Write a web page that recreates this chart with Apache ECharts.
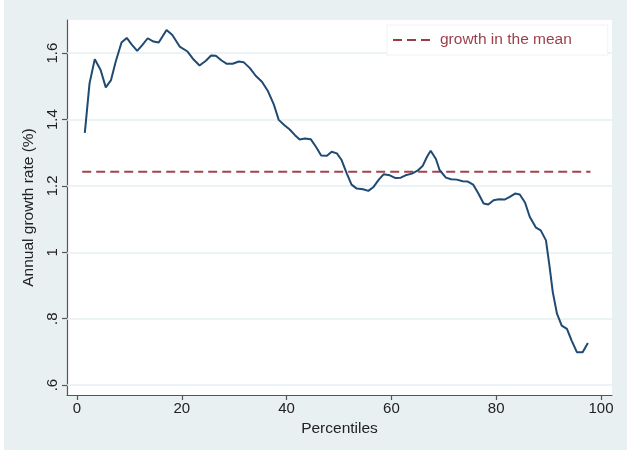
<!DOCTYPE html>
<html>
<head>
<meta charset="utf-8">
<script src="https://cdn.jsdelivr.net/npm/echarts@6/dist/echarts.min.js"></script>
<style>
  html, body { margin: 0; padding: 0; background: #fff; }
  #chart { width: 627px; height: 452px; }
</style>
</head>
<body>
<div id="chart"></div>
<script>
// Growth incidence curve: annual growth rate by percentile
const percentiles = [
  1.5, 2.4, 3.4, 4.5, 5.5, 6.5, 7.4, 8.5, 9.5, 10.5,
  11.5, 12.5, 13.5, 14.6, 15.6, 17.1, 18.2, 19.6, 21.1, 22.3,
  23.4, 24.6, 25.6, 26.5, 27.6, 28.6, 29.7, 30.9, 31.8, 33.0,
  34.1, 35.3, 36.4, 37.6, 38.5, 39.6, 40.6, 41.6, 42.5, 43.5,
  44.6, 45.6, 46.6, 47.7, 48.6, 49.6, 50.5, 51.5, 52.4, 53.4,
  54.6, 55.6, 56.6, 57.6, 58.5, 59.7, 60.7, 61.8, 62.7, 63.9,
  65.0, 66.0, 66.8, 67.5, 68.5, 69.2, 70.4, 71.4, 72.5, 73.6,
  74.6, 75.6, 76.6, 77.6, 78.5, 79.5, 80.5, 81.6, 82.6, 83.6,
  84.5, 85.5, 86.4, 87.6, 88.5, 89.5, 90.2, 90.8, 91.6, 92.5,
  93.5, 94.4, 95.4, 96.5, 97.5
];
const growthRate = [
  1.360, 1.509, 1.582, 1.550, 1.497, 1.519, 1.575, 1.632, 1.646, 1.625,
  1.607, 1.625, 1.645, 1.635, 1.632, 1.670, 1.655, 1.620, 1.605, 1.580,
  1.563, 1.577, 1.593, 1.592, 1.578, 1.568, 1.568, 1.575, 1.573, 1.555,
  1.532, 1.514, 1.487, 1.444, 1.399, 1.383, 1.370, 1.353, 1.340, 1.343,
  1.341, 1.318, 1.292, 1.291, 1.303, 1.298, 1.278, 1.237, 1.204, 1.192,
  1.190, 1.185, 1.197, 1.219, 1.235, 1.232, 1.224, 1.225, 1.232, 1.237,
  1.246, 1.261, 1.288, 1.306, 1.281, 1.248, 1.225, 1.220, 1.219, 1.214,
  1.213, 1.204, 1.177, 1.147, 1.144, 1.157, 1.160, 1.159, 1.167, 1.177,
  1.174, 1.150, 1.107, 1.074, 1.066, 1.036, 0.955, 0.880, 0.815, 0.779,
  0.769, 0.734, 0.699, 0.699, 0.727
];
const meanGrowth = 1.2425;
const meanRange = [1, 98];

const xTicks = [0, 20, 40, 60, 80, 100];
const yTicks = [0.6, 0.8, 1.0, 1.2, 1.4, 1.6];

const curve = percentiles.map((p, i) => [p, growthRate[i]]);
const meanLine = meanRange.map(p => [p, meanGrowth]);

const FONT = 'Liberation Sans, Arial, sans-serif';
const chart = echarts.init(document.getElementById('chart'), null, { renderer: 'canvas' });

chart.setOption({
  backgroundColor: '#e8f0f2',
  animation: false,
  textStyle: { fontFamily: FONT },
  graphic: [
    { type: 'rect', left: 0, top: 0, shape: { width: 4, height: 452 }, style: { fill: '#ffffff' }, z: -1 },
    { type: 'rect', left: 0, top: 450, shape: { width: 627, height: 2 }, style: { fill: '#ffffff' }, z: -1 }
  ],
  grid: {
    left: 67, top: 20, right: 15, bottom: 57,
    show: true, backgroundColor: '#ffffff', borderWidth: 0
  },
  legend: {
    left: 387, top: 25,
    padding: [7, 36, 7, 6],
    backgroundColor: '#ffffff',
    borderColor: '#eef2f4', borderWidth: 1,
    itemWidth: 37, itemHeight: 14, itemGap: 10,
    textStyle: { color: '#9b3f4a', fontSize: 15.5, fontFamily: FONT, padding: [0, 0, 0, 5] },
    data: [{ name: 'growth in the mean', icon: 'path://M0,6H9V8H0Z M14,6H23V8H14Z M28,6H37V8H28Z', itemStyle: { color: '#9e3a44' } }]
  },
  xAxis: {
    type: 'value', min: -1.9, max: 102.1,
    name: 'Percentiles', nameLocation: 'middle', nameGap: 25,
    nameTextStyle: { fontSize: 15.5, color: '#222', fontFamily: FONT },
    axisLine: { show: true, onZero: false, lineStyle: { color: '#555', width: 1.2 } },
    axisTick: { show: true, customValues: xTicks, length: 5, lineStyle: { color: '#555', width: 1.2 } },
    axisLabel: { customValues: xTicks, fontSize: 15, color: '#222', margin: 6, fontFamily: FONT },
    splitLine: { show: false }
  },
  yAxis: {
    type: 'value', min: 0.57, max: 1.70,
    name: 'Annual growth rate (%)', nameLocation: 'middle', nameGap: 29,
    nameTextStyle: { fontSize: 15.5, color: '#222', fontFamily: FONT },
    axisLine: { show: true, onZero: false, lineStyle: { color: '#555', width: 1.2 } },
    axisTick: { show: true, customValues: yTicks, length: 5, lineStyle: { color: '#555', width: 1.2 } },
    axisLabel: {
      customValues: yTicks, rotate: 90, fontSize: 15, color: '#222', margin: 7, fontFamily: FONT,
      formatter: v => String(+v.toFixed(1)).replace(/^0\./, '.')
    },
    splitLine: { show: false }
  },
  series: [
    {
      // horizontal grid lines at each y tick, kept beneath the data
      name: 'grid', type: 'line', data: [], silent: true, z: 1,
      markLine: {
        z: 1, silent: true, symbol: 'none', label: { show: false },
        lineStyle: { color: '#e6eff1', width: 1.5, type: 'solid' },
        data: yTicks.map(v => ({ yAxis: v }))
      }
    },
    {
      name: 'growth in the mean', type: 'line', data: meanLine, z: 2,
      symbol: 'none', silent: true,
      lineStyle: { color: '#a4434c', width: 2, type: [9, 5] },
      itemStyle: { color: '#a4434c' }
    },
    {
      name: 'growth', type: 'line', data: curve, z: 3,
      symbol: 'none', silent: true,
      lineStyle: { color: '#1f4a72', width: 2 }
    }
  ]
});
</script>
</body>
</html>
